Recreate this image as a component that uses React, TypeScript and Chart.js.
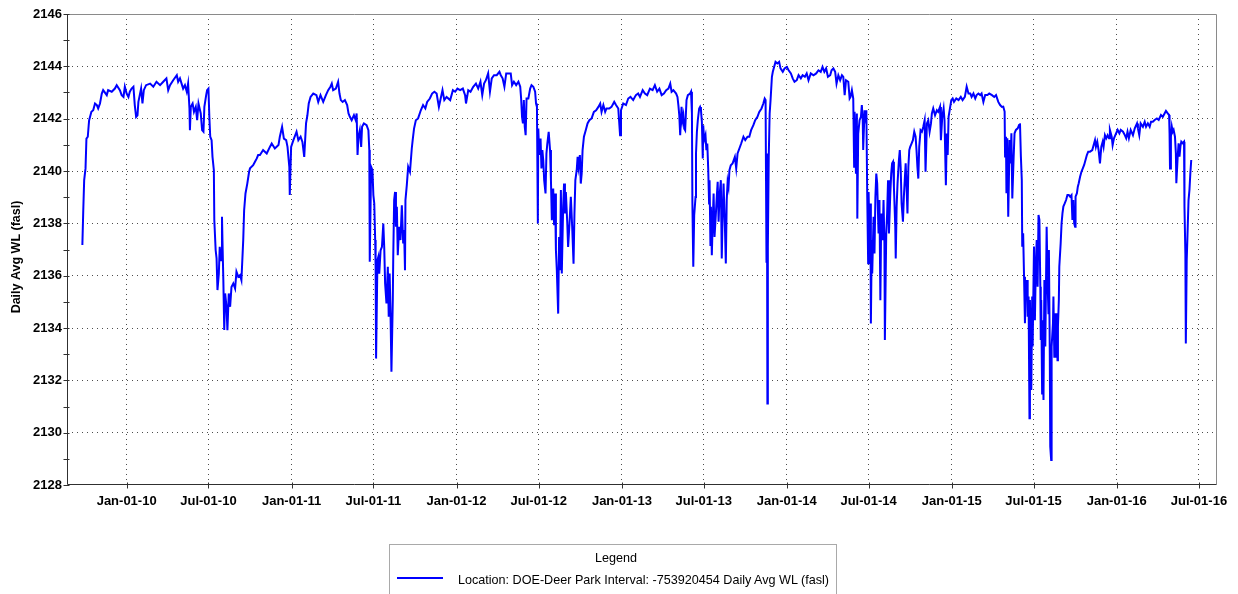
import React, { useEffect, useRef } from 'react';
import { Chart, registerables } from 'chart.js';

Chart.register(...registerables);

// Day offsets below are counted from this date
const START_DATE = '2010-01-01';
const X_MIN_DATE = '2009-08-22';
const X_MAX_DATE = '2016-08-10';

const Y_MIN = 2128;
const Y_MAX = 2146;
const Y_STEP = 2;

const Y_TITLE = 'Daily Avg WL (fasl)';
const LEGEND_TITLE = 'Legend';
const SERIES_NAME = 'Location: DOE-Deer Park Interval: -753920454 Daily Avg WL (fasl)';

const tickDates = [
  '2010-01-01', '2010-07-01', '2011-01-01', '2011-07-01', '2012-01-01', '2012-07-01', '2013-01-01',
  '2013-07-01', '2014-01-01', '2014-07-01', '2015-01-01', '2015-07-01', '2016-01-01', '2016-07-01',
];
const tickLabels = [
  'Jan-01-10', 'Jul-01-10', 'Jan-01-11', 'Jul-01-11', 'Jan-01-12', 'Jul-01-12', 'Jan-01-13',
  'Jul-01-13', 'Jan-01-14', 'Jul-01-14', 'Jan-01-15', 'Jul-01-15', 'Jan-01-16', 'Jul-01-16',
];

// [day offset from START_DATE, daily average water level]
const wl2009: [number, number][] = [
  [-98, 2137.17], [-96, 2138.5], [-94, 2139.65], [-91, 2140.1], [-89, 2141.24], [-86, 2141.31], [-84, 2141.75],
  [-83, 2141.94], [-78, 2142.26], [-74, 2142.32], [-70, 2142.58], [-66, 2142.52], [-63, 2142.39], [-59, 2142.58],
  [-55, 2142.96], [-52, 2143.09], [-44, 2142.9], [-41, 2143.09], [-33, 2143.03], [-26, 2143.15], [-22, 2143.28],
  [-15, 2143.09], [-11, 2142.9], [-7, 2142.83], [-4, 2143.22],
];

const wl2010: [number, number][] = [
  [0, 2142.96], [4, 2142.83], [7, 2143.03], [11, 2143.15], [15, 2143.22], [18, 2142.52], [21, 2142.07],
  [24, 2142.13], [26, 2142.64], [29, 2142.9], [32, 2143.15], [35, 2142.58], [38, 2143.09], [43, 2143.28],
  [52, 2143.34], [59, 2143.22], [66, 2143.41], [74, 2143.28], [81, 2143.41], [88, 2143.54], [92, 2143.09],
  [96, 2143.28], [103, 2143.47], [111, 2143.66], [114, 2143.41], [118, 2143.54], [125, 2143.15], [129, 2143.28],
  [133, 2143.03], [136, 2143.34], [139, 2142.39], [140, 2141.56], [142, 2142.45], [146, 2142.58], [149, 2142.26],
  [153, 2142.45], [156, 2141.94], [159, 2142.58], [164, 2142.2], [167, 2141.56], [170, 2141.5], [172, 2142.45],
  [176, 2142.9], [178, 2143.09], [181, 2143.15], [183, 2142.07], [185, 2141.31], [188, 2141.18], [190, 2140.54],
  [193, 2140.03], [194, 2138.12], [197, 2136.97], [199, 2136.66], [201, 2135.45], [204, 2136.08], [206, 2137.1],
  [209, 2136.59], [211, 2138.25], [212, 2137.36], [214, 2135.83], [216, 2133.92], [218, 2135.32], [221, 2134.81],
  [223, 2133.92], [226, 2135.32], [229, 2134.81], [232, 2135.57], [236, 2135.7], [240, 2135.51], [243, 2136.15],
  [247, 2135.96], [251, 2136.02], [254, 2135.83], [258, 2137.36], [260, 2138.5], [263, 2139.14], [267, 2139.52],
  [271, 2139.97], [273, 2140.1], [280, 2140.22], [284, 2140.35], [288, 2140.48], [291, 2140.61], [295, 2140.61],
  [302, 2140.8], [310, 2140.67], [317, 2140.92], [321, 2141.05], [328, 2140.86], [336, 2140.99], [339, 2141.31],
  [344, 2141.69], [348, 2141.24], [353, 2141.18], [356, 2140.92], [360, 2140.16], [361, 2139.08], [364, 2140.92],
];

const wl2011: [number, number][] = [
  [369, 2141.18], [376, 2141.5], [380, 2141.18], [385, 2141.31], [389, 2141.11], [393, 2140.54], [395, 2141.18],
  [397, 2141.82], [400, 2142.13], [403, 2142.58], [407, 2142.83], [413, 2142.96], [420, 2142.9], [424, 2142.64],
  [429, 2142.9], [435, 2142.64], [441, 2142.9], [446, 2143.09], [451, 2143.22], [454, 2143.34], [457, 2143.09],
  [463, 2143.15], [468, 2143.41], [471, 2142.96], [474, 2142.71], [478, 2142.64], [483, 2142.71], [488, 2142.52],
  [491, 2142.2], [494, 2142.07], [498, 2141.94], [503, 2142.13], [507, 2141.94], [509, 2142.2], [511, 2140.61],
  [513, 2141.31], [516, 2141.56], [519, 2140.92], [521, 2141.69], [525, 2141.82], [531, 2141.75], [535, 2141.56],
  [537, 2140.8], [538, 2136.53], [541, 2140.16], [544, 2140.03], [546, 2139.08], [548, 2138.76], [550, 2137.36],
  [551, 2136.34], [552, 2132.83], [555, 2136.59], [557, 2136.72], [559, 2136.08], [562, 2136.97], [565, 2137.1],
  [568, 2137.99], [570, 2137.1], [572, 2135.7], [575, 2134.94], [578, 2136.34], [580, 2134.43], [582, 2136.08],
  [584, 2134.55], [586, 2132.33], [589, 2135.06], [590, 2136.72], [592, 2138.89], [594, 2139.2], [596, 2137.87],
  [598, 2138.63], [600, 2136.78], [603, 2137.87], [606, 2137.36], [609, 2138.69], [612, 2137.23], [614, 2137.74],
  [616, 2136.21], [617, 2138.89], [620, 2139.46], [623, 2140.16], [627, 2139.97], [631, 2140.86], [633, 2141.18],
  [636, 2141.62], [640, 2141.94], [645, 2142.01], [651, 2142.32], [656, 2142.52], [661, 2142.39], [665, 2142.64],
  [671, 2142.77], [676, 2142.96], [681, 2143.03], [686, 2142.96], [691, 2142.45], [695, 2142.77], [699, 2143.09],
  [703, 2142.71], [708, 2142.83], [716, 2142.71], [722, 2143.09], [727, 2143.03],
];

const wl2012: [number, number][] = [
  [732, 2143.15], [738, 2143.09], [744, 2143.15], [749, 2142.9], [751, 2142.58], [756, 2143.09], [761, 2143.03],
  [767, 2143.22], [773, 2143.34], [778, 2143.15], [783, 2143.41], [787, 2142.9], [791, 2143.34], [795, 2143.47],
  [800, 2143.73], [804, 2143.03], [808, 2143.54], [813, 2143.66], [819, 2143.66], [825, 2143.79], [828, 2143.66],
  [832, 2143.54], [836, 2143.22], [840, 2143.73], [845, 2143.73], [850, 2143.73], [853, 2143.28], [857, 2143.41],
  [862, 2143.28], [867, 2143.41], [871, 2143.22], [873, 2142.77], [875, 2142.07], [877, 2141.82], [879, 2142.71],
  [881, 2141.69], [883, 2141.37], [885, 2142.77], [889, 2142.77], [893, 2143.15], [896, 2143.28], [900, 2143.22],
  [904, 2143.03], [906, 2142.58], [908, 2142.45], [910, 2137.99], [911, 2141.62], [913, 2140.61], [916, 2141.24],
  [918, 2140.1], [920, 2140.8], [922, 2140.41], [924, 2139.65], [927, 2139.14], [929, 2140.67], [931, 2141.05],
  [934, 2141.5], [937, 2140.8], [939, 2139.65], [941, 2138.12], [944, 2139.33], [946, 2137.93], [948, 2139.14],
  [950, 2136.97], [952, 2136.21], [955, 2134.55], [957, 2137.48], [959, 2136.21], [961, 2139.27], [963, 2136.08],
  [966, 2138.63], [968, 2139.52], [970, 2138.38], [972, 2139.2], [975, 2138.06], [977, 2137.1], [980, 2137.99],
  [983, 2139.01], [986, 2137.87], [989, 2136.46], [991, 2138.38], [993, 2139.65], [996, 2140.03], [998, 2140.54],
  [1000, 2140.16], [1003, 2140.61], [1005, 2139.52], [1007, 2139.9], [1009, 2140.8], [1012, 2141.31], [1016, 2141.56],
  [1020, 2141.82], [1024, 2141.94], [1029, 2142.01], [1034, 2142.26], [1039, 2142.32], [1044, 2142.45], [1048, 2142.58],
  [1051, 2142.26], [1055, 2142.52], [1059, 2142.26], [1062, 2142.39], [1068, 2142.39], [1073, 2142.45], [1079, 2142.64],
  [1083, 2142.52], [1088, 2142.39], [1092, 2141.37], [1094, 2142.32],
];

const wl2013: [number, number][] = [
  [1099, 2142.58], [1105, 2142.52], [1110, 2142.77], [1115, 2142.83], [1121, 2142.71], [1127, 2142.9], [1132, 2142.96],
  [1136, 2142.83], [1142, 2143.09], [1147, 2142.96], [1152, 2142.9], [1158, 2143.15], [1164, 2143.09], [1169, 2143.28],
  [1174, 2143.03], [1179, 2143.15], [1184, 2142.9], [1189, 2142.96], [1194, 2143.09], [1199, 2143.15], [1203, 2143.34],
  [1206, 2143.03], [1210, 2143.09], [1216, 2142.96], [1219, 2142.83], [1221, 2142.52], [1223, 2142.13], [1225, 2141.37],
  [1228, 2142.45], [1230, 2141.94], [1232, 2142.13], [1234, 2141.62], [1236, 2141.56], [1239, 2142.71], [1242, 2142.9],
  [1247, 2142.96], [1249, 2143.03], [1251, 2142.2], [1252, 2138.82], [1254, 2136.34], [1256, 2138.31], [1259, 2139.01],
  [1260, 2140.67], [1262, 2141.5], [1264, 2141.94], [1267, 2142.39], [1269, 2142.45], [1271, 2142.32], [1273, 2141.88],
  [1275, 2140.48], [1276, 2141.75], [1278, 2141.18], [1281, 2141.37], [1283, 2140.8], [1285, 2141.05], [1287, 2140.1],
  [1289, 2138.76], [1290, 2139.65], [1292, 2137.17], [1293, 2138.63], [1295, 2136.78], [1297, 2138.12], [1299, 2139.14],
  [1301, 2137.48], [1304, 2138.38], [1306, 2139.01], [1308, 2139.59], [1310, 2138.06], [1312, 2139.01], [1315, 2139.65],
  [1317, 2136.66], [1319, 2138.38], [1321, 2139.52], [1324, 2137.87], [1326, 2136.47], [1328, 2138.89], [1330, 2139.59],
  [1332, 2139.39], [1334, 2140.03], [1337, 2140.22], [1341, 2140.29], [1346, 2140.54], [1349, 2140.1], [1352, 2140.67],
  [1356, 2140.86], [1360, 2141.05], [1365, 2141.31], [1369, 2141.18], [1374, 2141.31], [1378, 2141.31], [1382, 2141.56],
  [1387, 2141.75], [1391, 2141.94], [1396, 2142.07], [1400, 2142.26], [1405, 2142.39], [1409, 2142.58], [1412, 2142.77],
  [1414, 2142.71], [1416, 2136.53], [1417, 2140.67], [1418, 2131.11], [1419, 2137.1], [1421, 2140.54], [1423, 2142.2],
  [1425, 2142.71], [1428, 2143.6], [1430, 2143.79], [1433, 2143.98], [1436, 2144.17], [1440, 2144.11], [1444, 2144.17],
  [1447, 2143.92], [1452, 2143.79], [1456, 2143.92],
];

const wl2014: [number, number][] = [
  [1461, 2143.98], [1465, 2143.85], [1470, 2143.73], [1474, 2143.54], [1478, 2143.41], [1483, 2143.47], [1487, 2143.66],
  [1492, 2143.54], [1496, 2143.66], [1501, 2143.6], [1505, 2143.73], [1509, 2143.47], [1514, 2143.73], [1520, 2143.66],
  [1526, 2143.73], [1531, 2143.85], [1536, 2143.79], [1540, 2143.98], [1544, 2143.79], [1548, 2143.92], [1552, 2143.6],
  [1557, 2143.66], [1560, 2143.85], [1564, 2143.92], [1568, 2143.79], [1571, 2143.34], [1575, 2143.66], [1579, 2143.47],
  [1583, 2143.66], [1586, 2143.6], [1589, 2142.9], [1592, 2143.47], [1597, 2143.41], [1600, 2142.77], [1602, 2142.83],
  [1605, 2143.09], [1608, 2142.77], [1610, 2140.16], [1611, 2142.26], [1614, 2139.9], [1616, 2142.2], [1617, 2138.18],
  [1619, 2141.43], [1622, 2141.94], [1625, 2142.07], [1627, 2142.52], [1629, 2141.94], [1630, 2140.8], [1633, 2142.32],
  [1635, 2142.07], [1637, 2142.32], [1639, 2139.01], [1641, 2136.47], [1642, 2139.2], [1644, 2137.23], [1646, 2138.76],
  [1647, 2134.17], [1649, 2137.36], [1650, 2136.08], [1653, 2138.25], [1655, 2136.85], [1657, 2139.01], [1659, 2139.9],
  [1661, 2139.52], [1664, 2137.61], [1666, 2138.89], [1668, 2135.06], [1670, 2138.38], [1673, 2137.36], [1675, 2138.89],
  [1677, 2137.23], [1678, 2133.54], [1681, 2137.61], [1683, 2138.38], [1685, 2139.65], [1687, 2137.61], [1690, 2139.14],
  [1692, 2139.9], [1694, 2140.29], [1696, 2140.35], [1698, 2139.39], [1701, 2137.87], [1702, 2136.66], [1704, 2138.63],
  [1706, 2139.52], [1709, 2140.41], [1711, 2140.8], [1713, 2140.1], [1715, 2138.76], [1718, 2138.06], [1720, 2139.01],
  [1722, 2139.65], [1724, 2140.29], [1726, 2139.39], [1728, 2138.38], [1730, 2140.16], [1732, 2140.8], [1734, 2140.92],
  [1737, 2141.05], [1740, 2141.18], [1743, 2141.5], [1746, 2141.31], [1748, 2140.8], [1750, 2140.16], [1752, 2139.71],
  [1754, 2140.92], [1757, 2141.56], [1760, 2141.5], [1763, 2141.69], [1766, 2141.94], [1768, 2139.97], [1771, 2141.82],
  [1774, 2141.94], [1777, 2141.5], [1780, 2141.82], [1782, 2142.2], [1785, 2142.39], [1789, 2142.13], [1793, 2142.32],
  [1796, 2142.26], [1800, 2142.45], [1802, 2141.18], [1805, 2142.07], [1808, 2142.39], [1810, 2141.94], [1813, 2139.46],
  [1815, 2141.43], [1817, 2140.61], [1819, 2142.07], [1822, 2142.39], [1825, 2142.71],
];

const wl2015: [number, number][] = [
  [1828, 2142.77], [1831, 2142.64], [1836, 2142.77], [1841, 2142.71], [1846, 2142.83], [1850, 2142.71], [1855, 2142.83],
  [1859, 2143.22], [1863, 2142.96], [1867, 2142.96], [1870, 2142.83], [1874, 2142.96], [1878, 2142.77], [1881, 2142.9],
  [1885, 2142.96], [1889, 2142.9], [1892, 2142.96], [1896, 2142.64], [1900, 2142.9], [1905, 2142.9], [1909, 2142.96],
  [1915, 2142.9], [1920, 2142.83], [1924, 2142.9], [1929, 2142.64], [1933, 2142.52], [1937, 2142.45], [1940, 2142.46],
  [1943, 2142.27], [1944, 2140.55], [1946, 2141.31], [1947, 2139.15], [1949, 2141.25], [1951, 2138.25], [1954, 2141.18],
  [1956, 2140.29], [1958, 2141.44], [1960, 2138.95], [1963, 2140.55], [1965, 2141.44], [1968, 2141.57], [1972, 2141.63],
  [1975, 2141.76], [1977, 2141.82], [1979, 2140.55], [1981, 2139.65], [1982, 2137.11], [1984, 2137.62], [1986, 2135.96],
  [1988, 2134.18], [1990, 2135.83], [1991, 2135.2], [1993, 2135.83], [1994, 2134.43], [1996, 2135.2], [1998, 2130.55],
  [1999, 2135.07], [2002, 2131.63], [2004, 2135.2], [2005, 2133.29], [2008, 2137.11], [2010, 2134.3], [2012, 2136.34],
  [2014, 2137.36], [2016, 2135.58], [2018, 2138.32], [2020, 2138.13], [2022, 2135.58], [2023, 2133.54], [2024, 2135.07],
  [2026, 2131.5], [2027, 2134.3], [2029, 2131.25], [2031, 2135.83], [2033, 2133.29], [2036, 2137.87], [2038, 2135.83],
  [2040, 2134.56], [2041, 2136.98], [2043, 2132.9], [2044, 2129.46], [2046, 2128.96], [2047, 2133.29], [2050, 2134.18],
  [2051, 2135.2], [2053, 2132.9], [2054, 2134.05], [2056, 2134.56], [2057, 2132.9], [2058, 2134.56], [2060, 2132.77],
  [2061, 2134.05], [2063, 2135.07], [2064, 2136.34], [2067, 2137.23], [2069, 2137.99], [2071, 2138.38], [2073, 2138.64],
  [2076, 2138.76], [2079, 2138.89], [2082, 2139.08], [2085, 2139.08], [2088, 2139.02], [2091, 2139.08], [2093, 2138.13],
  [2095, 2138.89], [2097, 2137.99], [2099, 2137.87], [2100, 2139.02], [2103, 2139.15], [2105, 2139.4], [2107, 2139.53],
  [2110, 2139.78], [2113, 2139.97], [2116, 2140.1], [2119, 2140.23], [2122, 2140.42], [2125, 2140.61], [2128, 2140.74],
  [2132, 2140.74], [2137, 2140.8], [2140, 2140.99], [2143, 2141.18], [2145, 2140.93], [2148, 2141.12], [2151, 2140.8],
  [2154, 2140.29], [2157, 2140.93], [2160, 2141.12], [2162, 2140.93], [2165, 2141.37], [2168, 2141.25], [2171, 2141.37],
  [2174, 2141.25], [2176, 2141.57], [2180, 2141.31], [2182, 2140.99], [2185, 2141.25], [2188, 2141.37],
];

const wl2016: [number, number][] = [
  [2193, 2141.57], [2197, 2141.44], [2200, 2141.57], [2205, 2141.5], [2209, 2141.37], [2212, 2141.25], [2215, 2141.5],
  [2218, 2141.25], [2222, 2141.57], [2227, 2141.37], [2231, 2141.63], [2236, 2141.82], [2238, 2141.63], [2241, 2141.37],
  [2244, 2141.82], [2249, 2141.69], [2253, 2141.88], [2256, 2141.69], [2260, 2141.82], [2264, 2141.69], [2267, 2141.88],
  [2271, 2141.88], [2275, 2141.95], [2280, 2142.01], [2284, 2141.95], [2289, 2142.14], [2293, 2142.07], [2297, 2142.2],
  [2300, 2142.3], [2304, 2142.2], [2307, 2142.14], [2308, 2141.44], [2309, 2140.1], [2311, 2141.31], [2313, 2141.69],
  [2315, 2141.5], [2317, 2141.57], [2320, 2141.31], [2322, 2140.67], [2323, 2139.53], [2326, 2140.55], [2328, 2141.06],
  [2330, 2140.55], [2332, 2140.93], [2334, 2141.12], [2337, 2141.06], [2340, 2141.12], [2341, 2138.64], [2343, 2136.85],
  [2344, 2133.41], [2346, 2136.6], [2348, 2137.74], [2350, 2138.89], [2352, 2139.27], [2354, 2139.91], [2356, 2140.42],
];

const FONT = "'Liberation Sans', Arial, sans-serif";
const LINE_COLOR = '#0000ff';
const GRID_COLOR = '#4d4d4d';

const dayOf = (iso: string) => (Date.parse(iso) - Date.parse(START_DATE)) / 86400000;

const framePlugin = {
  id: 'frameAndTicks',
  afterDatasetsDraw(chart: any) {
    const { ctx, chartArea, scales } = chart;
    const { left, right, top, bottom } = chartArea;
    const L = Math.round(left) + 0.5;
    const R = Math.round(right) - 0.5;
    const T = Math.round(top) + 0.5;
    const B = Math.round(bottom) - 0.5;
    ctx.save();
    ctx.lineWidth = 1;
    ctx.strokeStyle = '#8a8a8a';
    ctx.beginPath();
    ctx.moveTo(L, T);
    ctx.lineTo(R, T);
    ctx.lineTo(R, B);
    ctx.stroke();
    ctx.strokeStyle = '#303030';
    ctx.beginPath();
    ctx.moveTo(L, T);
    ctx.lineTo(L, B);
    ctx.lineTo(R, B);
    ctx.stroke();
    // y ticks (major + minor)
    ctx.beginPath();
    for (let v = Y_MIN; v <= Y_MAX; v += 1) {
      const py = Math.round(scales.y.getPixelForValue(v)) + 0.5;
      ctx.moveTo(L - 4, py);
      ctx.lineTo(L + 2, py);
    }
    // x ticks
    tickDates.forEach((d) => {
      const px = Math.round(scales.x.getPixelForValue(dayOf(d))) + 0.5;
      ctx.moveTo(px, B - 2);
      ctx.lineTo(px, B + 4);
    });
    ctx.stroke();
    // y axis title
    ctx.fillStyle = '#000';
    ctx.font = `bold 12.5px ${FONT}`;
    ctx.textAlign = 'center';
    ctx.textBaseline = 'middle';
    ctx.translate(17, 257);
    ctx.rotate(-Math.PI / 2);
    ctx.fillText(Y_TITLE, 0, 0);
    ctx.restore();
  },
};

export default function App() {
  const canvasRef = useRef<HTMLCanvasElement | null>(null);

  useEffect(() => {
    const canvas = canvasRef.current;
    if (!canvas) return;
    const series = [wl2009, wl2010, wl2011, wl2012, wl2013, wl2014, wl2015, wl2016]
      .flat()
      .map(([d, v]) => ({ x: d, y: v }));
    const tickDays = tickDates.map(dayOf);

    const chart = new Chart(canvas, {
      type: 'line',
      data: {
        datasets: [
          {
            label: SERIES_NAME,
            data: series,
            borderColor: LINE_COLOR,
            backgroundColor: LINE_COLOR,
            borderWidth: 2,
            pointRadius: 0,
            tension: 0,
            fill: false,
          },
        ],
      },
      options: {
        animation: false,
        responsive: false,
        devicePixelRatio: 1,
        layout: { padding: { left: 0, top: 14, right: 21, bottom: 79 } },
        plugins: { legend: { display: false }, tooltip: { enabled: false } },
        scales: {
          x: {
            type: 'linear',
            min: dayOf(X_MIN_DATE),
            max: dayOf(X_MAX_DATE),
            afterBuildTicks: (scale: any) => {
              scale.ticks = tickDays.map((v) => ({ value: v }));
            },
            afterFit: (scale: any) => {
              scale.height = 30;
            },
            ticks: {
              autoSkip: false,
              maxRotation: 0,
              minRotation: 0,
              padding: 9,
              color: '#000',
              font: { family: FONT, size: 13, weight: 'bold' },
              callback: (_v: any, i: number) => tickLabels[i],
            },
            grid: { color: GRID_COLOR, lineWidth: 1, drawTicks: false },
            border: { display: false, dash: [1, 4] },
          },
          y: {
            type: 'linear',
            min: Y_MIN,
            max: Y_MAX,
            afterFit: (scale: any) => {
              scale.width = 67;
            },
            ticks: {
              stepSize: Y_STEP,
              padding: 5,
              color: '#000',
              font: { family: FONT, size: 13, weight: 'bold' },
              callback: (v: any) => String(v),
            },
            grid: {
              color: (c: any) =>
                c.tick && (c.tick.value === Y_MIN || c.tick.value === Y_MAX) ? 'rgba(0,0,0,0)' : GRID_COLOR,
              lineWidth: 1,
              drawTicks: false,
            },
            border: { display: false, dash: [1, 4] },
          },
        },
      },
      plugins: [framePlugin],
    } as any);

    return () => chart.destroy();
  }, []);

  return (
    <div
      style={{
        position: 'absolute',
        left: 0,
        top: 0,
        width: 1238,
        height: 594,
        overflow: 'hidden',
        background: '#fff',
        fontFamily: FONT,
      }}
    >
      <canvas ref={canvasRef} width={1238} height={594} style={{ display: 'block' }} />
      <div
        style={{
          position: 'absolute',
          left: 389,
          top: 544,
          width: 448,
          height: 70,
          border: '1px solid #a9a9a9',
          boxSizing: 'border-box',
          background: '#fff',
          fontSize: 12.6,
          color: '#000',
        }}
      >
        <div
          style={{
            position: 'absolute',
            left: 0,
            width: 452,
            top: 6,
            lineHeight: '14px',
            textAlign: 'center',
          }}
        >
          {LEGEND_TITLE}
        </div>
        <div
          style={{
            position: 'absolute',
            left: 7,
            top: 32,
            width: 46,
            height: 2,
            background: LINE_COLOR,
          }}
        />
        <div
          style={{
            position: 'absolute',
            left: 68,
            top: 28,
            lineHeight: '14px',
            whiteSpace: 'nowrap',
          }}
        >
          {SERIES_NAME}
        </div>
      </div>
    </div>
  );
}
